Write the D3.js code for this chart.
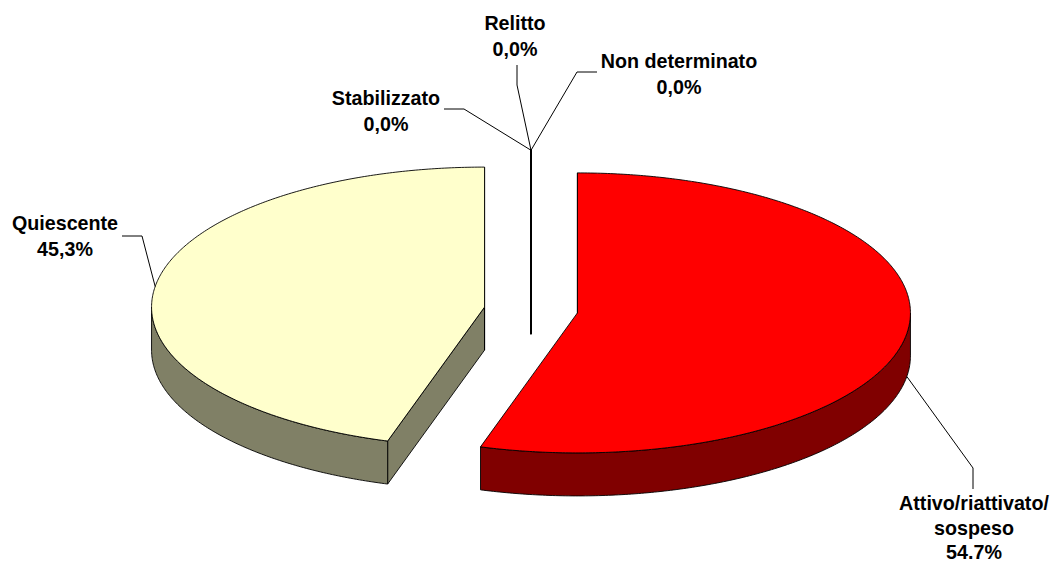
<!DOCTYPE html>
<meta charset="utf-8">
<style>
  body { margin: 0; background: #fff; }
  svg { position: absolute; left: 0; top: 0; }
  text {
    font-family: 'Liberation Sans', Arial, sans-serif;
    font-weight: bold;
    font-size: 19.7px;
    text-anchor: middle;
    fill: #000;
  }
  .leader { fill: none; stroke: #000; stroke-width: 1px; }
  .face { stroke: #000; stroke-width: 0.9px; stroke-linejoin: round; }
</style>
<script src="https://d3js.org/d3.v7.min.js"></script>

<svg width="1052" height="564"></svg>

<script>
  // data
  var categories = ["Attivo/riattivato/sospeso", "Quiescente", "Stabilizzato", "Relitto", "Non determinato"];
  var values = [54.7, 45.3, 0, 0, 0];
  var labelLines = [
    ["Attivo/riattivato/", "sospeso", "54.7%"],
    ["Quiescente", "45,3%"],
    ["Stabilizzato", "0,0%"],
    ["Relitto", "0,0%"],
    ["Non determinato", "0,0%"]
  ];
  var topColors = ["#ff0000", "#ffffcc", "#ffffff", "#ffffff", "#ffffff"];
  var sideColors = ["#800000", "#808066", "#808080", "#808080", "#808080"];

  // label layout: text centre x, first baseline, line gap, leader start + elbow
  var labelPos = [
    { x: 974, y: 510, gap: 24.5, lead: [[973, 489], [973, 468]] },
    { x: 65, y: 230, gap: 26, lead: [[122, 236], [142, 236]] },
    { x: 386, y: 105, gap: 25.5, lead: [[444, 109], [464, 109]] },
    { x: 515, y: 30, gap: 25.5, lead: [[517, 65], [517, 85]] },
    { x: 679, y: 68, gap: 26, lead: [[597, 72], [577, 72]] }
  ];

  var svg = d3.select("svg");
  var cx = 531, cy = 310, rx = 333, ry = 140, depth = 43, explode = 0.141;

  var pie = d3.pie().sort(null).startAngle(0).endAngle(2 * Math.PI);
  var arcs = pie(values).map(function(d, i) {
    var mid = (d.startAngle + d.endAngle) / 2;
    d.i = i;
    d.mid = mid;
    d.ox = cx + Math.sin(mid) * explode * rx;
    d.oy = cy - Math.cos(mid) * explode * ry;
    return d;
  });

  function pt(d, a, dz) {
    return [d.ox + Math.sin(a) * rx, d.oy - Math.cos(a) * ry + (dz || 0)];
  }
  function samples(a0, a1) {
    var n = Math.max(1, Math.ceil(Math.abs(a1 - a0) / 0.01));
    return d3.range(n + 1).map(function(k) { return a0 + (a1 - a0) * k / n; });
  }

  function topPath(d) {
    var p = d3.path();
    p.moveTo(d.ox, d.oy);
    samples(d.startAngle, d.endAngle).forEach(function(a) {
      var q = pt(d, a); p.lineTo(q[0], q[1]);
    });
    p.closePath();
    return p.toString();
  }
  function outerWall(d) {
    var a0 = Math.max(d.startAngle, Math.PI / 2), a1 = Math.min(d.endAngle, 3 * Math.PI / 2);
    if (a1 <= a0) return null;
    var p = d3.path(), s = samples(a0, a1);
    s.forEach(function(a, k) {
      var q = pt(d, a); if (k === 0) p.moveTo(q[0], q[1]); else p.lineTo(q[0], q[1]);
    });
    s.slice().reverse().forEach(function(a) {
      var q = pt(d, a, depth); p.lineTo(q[0], q[1]);
    });
    p.closePath();
    return p.toString();
  }
  function radialWall(d, a, normal) {
    if (Math.cos(normal) > 1e-6) return null;
    var e = pt(d, a), e2 = pt(d, a, depth);
    var p = d3.path();
    p.moveTo(d.ox, d.oy);
    p.lineTo(e[0], e[1]);
    p.lineTo(e2[0], e2[1]);
    p.lineTo(d.ox, d.oy + depth);
    p.closePath();
    return p.toString();
  }

  // back slices first (the zero ones sit at the back)
  var order = arcs.slice().sort(function(a, b) { return Math.cos(b.mid) - Math.cos(a.mid); });

  var g = svg.append("g");
  order.forEach(function(d) {
    var sw = d.value === 0 ? 2 : 0.9;
    var walls = [
      radialWall(d, d.startAngle, d.startAngle - Math.PI / 2),
      radialWall(d, d.endAngle, d.endAngle + Math.PI / 2),
      outerWall(d)
    ].filter(Boolean);
    walls.forEach(function(w) {
      g.append("path").attr("class", "face").attr("d", w)
        .attr("fill", sideColors[d.i]).style("stroke-width", sw);
    });
  });
  order.forEach(function(d) {
    var sw = d.value === 0 ? 2 : 0.9;
    g.append("path").attr("class", "face").attr("d", topPath(d))
      .attr("fill", topColors[d.i]).style("stroke-width", sw);
  });

  // leader lines and labels
  arcs.forEach(function(d) {
    var front = Math.cos(d.mid) < 0;
    var anchor = pt(d, d.mid, front ? depth : 0);
    var lp = labelPos[d.i];
    svg.append("path").attr("class", "leader")
      .attr("d", d3.line()(lp.lead.concat([anchor])));
    var t = svg.append("text").attr("x", lp.x).attr("y", lp.y);
    labelLines[d.i].forEach(function(s, k) {
      t.append("tspan").attr("x", lp.x).attr("y", lp.y + k * lp.gap).text(s);
    });
  });
</script>
